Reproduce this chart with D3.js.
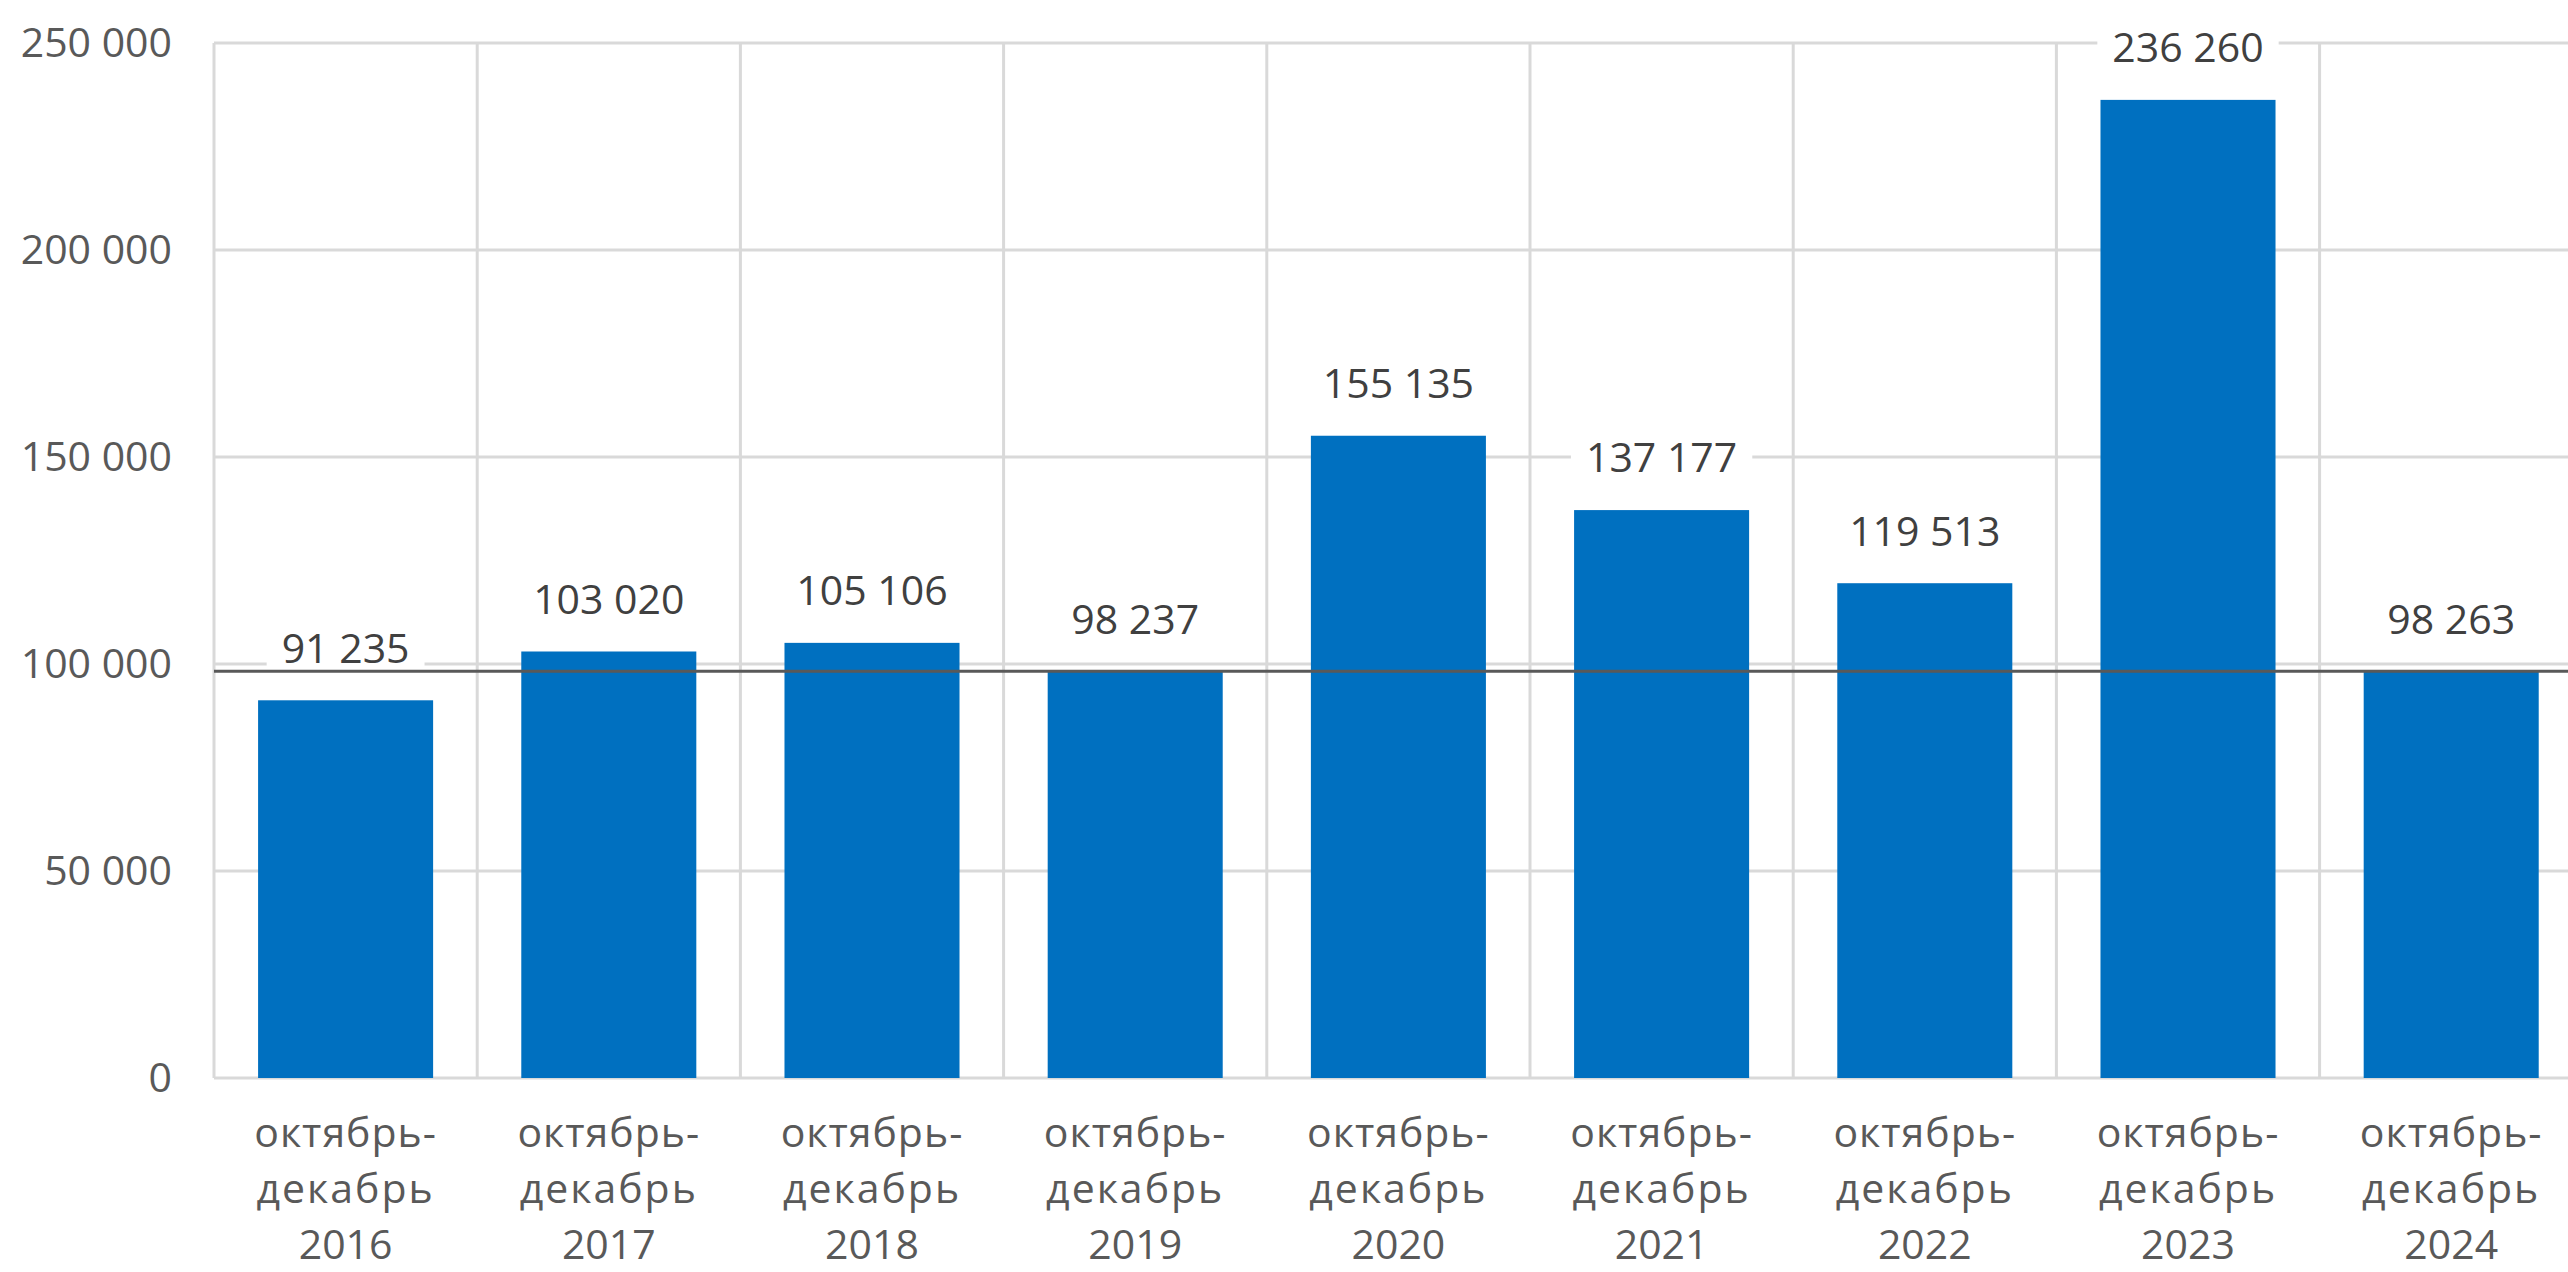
<!DOCTYPE html>
<html>
<head>
<meta charset="utf-8">
<script src="https://cdn.jsdelivr.net/npm/d3@7"></script>
<style>
  html, body { margin: 0; padding: 0; background: #fff; overflow: hidden; }
  svg { display: block; font-family: "Open Sans", sans-serif; }
</style>
</head>
<body>
<svg id="chart" width="2568" height="1272"></svg>
<script>
        const categories = ["2016", "2017", "2018", "2019", "2020", "2021", "2022", "2023", "2024"];
        const values = [91235, 103020, 105106, 98237, 155135, 137177, 119513, 236260, 98263];
        const yTicks = [0, 50000, 100000, 150000, 200000, 250000];
        const refValue = 98263;   // dark horizontal line

        const width = 2568, height = 1272;
        const margin = { top: 43, left: 214, bottom: 194 };
        const plotW = 263.2 * categories.length;

        const svg = d3.select("#chart");
        const fmt = v => d3.format(",")(v).replace(/,/g, " ");

        const x = d3.scaleBand()
            .domain(categories)
            .range([margin.left, margin.left + plotW])
            .paddingInner(0.335)
            .paddingOuter(0.1675);

        const y = d3.scaleLinear()
            .domain([0, 250000])
            .range([height - margin.bottom, margin.top]);

        // grid
        const grid = svg.append("g");
        grid.selectAll(".hgrid")
            .data(yTicks)
            .join("line")
            .attr("x1", margin.left).attr("x2", margin.left + plotW)
            .attr("y1", d => y(d)).attr("y2", d => y(d))
            .attr("stroke", "#d9d9d9").attr("stroke-width", 3);

        const bounds = categories.map(c => x(c) - x.step() * x.paddingOuter()).concat([margin.left + plotW]);
        grid.selectAll(".vgrid")
            .data(bounds)
            .join("line")
            .attr("x1", d => d).attr("x2", d => d)
            .attr("y1", y(250000)).attr("y2", y(0))
            .attr("stroke", "#d9d9d9").attr("stroke-width", 3);

        // y axis labels
        svg.append("g").selectAll("text")
            .data(yTicks)
            .join("text")
            .attr("x", margin.left - 42)
            .attr("y", d => y(d))
            .attr("dy", "0.35em")
            .attr("text-anchor", "end")
            .attr("font-size", 41)
            .attr("fill", "#595959")
            .text(fmt);

        // bars
        svg.append("g").selectAll("rect")
            .data(values)
            .join("rect")
            .attr("x", (d, i) => x(categories[i]))
            .attr("width", x.bandwidth())
            .attr("y", d => y(d))
            .attr("height", d => y(0) - y(d))
            .attr("fill", "#0070c0");

        // data labels with white boxes
        const labels = svg.append("g").selectAll("g")
            .data(values)
            .join("g")
            .attr("transform", (d, i) => `translate(${x(categories[i]) + x.bandwidth() / 2},${y(d) - 52})`);

        labels.append("text")
            .attr("text-anchor", "middle")
            .attr("dy", "0.35em")
            .attr("font-size", 41)
            .attr("fill", "#404040")
            .text(fmt);

        labels.each(function () {
            const g = d3.select(this);
            const bb = g.select("text").node().getBBox();
            g.insert("rect", "text")
                .attr("x", bb.x - 15)
                .attr("y", -21)
                .attr("width", bb.width + 30)
                .attr("height", 42)
                .attr("fill", "#fff");
        });

        // reference line
        svg.append("line")
            .attr("x1", margin.left).attr("x2", margin.left + plotW)
            .attr("y1", y(refValue)).attr("y2", y(refValue))
            .attr("stroke", "#595959").attr("stroke-width", 3);

        // category labels
        const cat = svg.append("g").selectAll("text")
            .data(categories)
            .join("text")
            .attr("x", d => x(d) + x.bandwidth() / 2)
            .attr("text-anchor", "middle")
            .attr("font-size", 41)
            .attr("fill", "#595959");

        cat.append("tspan").attr("x", d => x(d) + x.bandwidth() / 2).attr("y", 1147)
            .attr("letter-spacing", 1).text("октябрь-");
        cat.append("tspan").attr("x", d => x(d) + x.bandwidth() / 2).attr("y", 1203)
            .attr("letter-spacing", 2).text("декабрь");
        cat.append("tspan").attr("x", d => x(d) + x.bandwidth() / 2).attr("y", 1259)
            .text(d => d);
</script>
</body>
</html>
